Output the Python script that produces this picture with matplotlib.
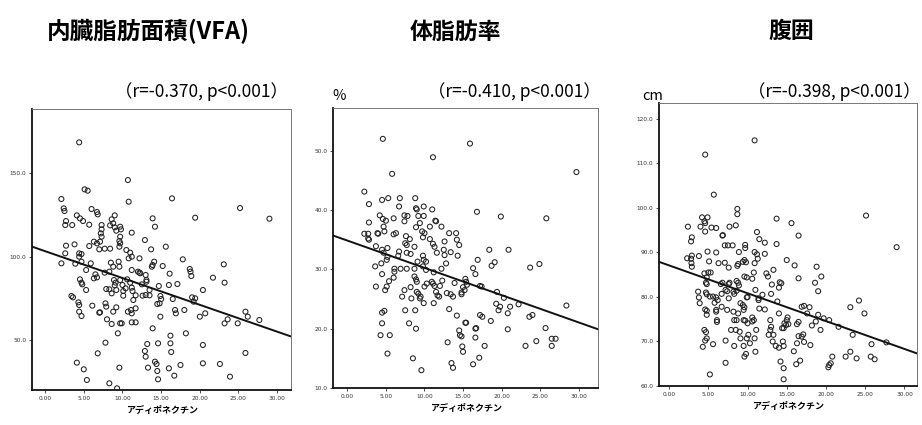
import matplotlib
matplotlib.use("Agg")
import matplotlib.pyplot as plt

plt.rcParams["font.family"] = ["Noto Sans CJK JP", "DejaVu Sans"]

# アディポネクチン vs 内臓脂肪面積
vfa_x = [4.4, 10.7, 5.1, 5.5, 2.1, 16.4, 10.8, 2.4, 2.5, 6.0,
         6.7, 6.8, 25.2, 29.0, 19.4, 4.1, 4.5, 4.9, 2.7, 2.6,
         3.5, 5.7, 9.0, 8.6, 8.8, 7.3, 7.3, 7.2, 8.4, 9.0,
         9.2, 9.7, 9.8, 13.9, 14.2, 11.2, 12.9, 9.7, 9.6, 9.7,
         7.3, 7.1, 6.3, 6.7, 5.7, 3.8, 2.7, 15.6, 13.7, 7.0,
         7.7, 8.4, 9.6, 10.5, 11.0, 11.2, 10.8, 12.2, 2.6, 4.4,
         4.7, 4.4, 2.1, 3.9, 4.7, 5.9, 5.3, 8.5, 8.8, 9.5,
         9.6, 14.1, 13.9, 15.2, 17.8, 23.1, 12.0, 12.2, 12.3, 11.2,
         13.0, 13.1, 13.1, 13.8, 16.1, 18.7, 18.8, 18.9, 21.7, 23.2,
         4.5, 4.7, 4.8, 5.3, 6.5, 6.7, 6.3, 7.7, 8.3, 8.9,
         9.1, 9.0, 9.7, 10.0, 10.4, 10.6, 11.0, 7.9, 8.6, 10.1,
         11.3, 11.7, 12.6, 13.5, 14.7, 16.0, 17.1, 14.9, 15.0, 14.8,
         14.5, 16.5, 16.8, 16.9, 18.0, 19.0, 19.4, 19.2, 20.4, 20.0,
         20.7, 23.2, 23.6, 24.9, 25.9, 26.2, 27.7, 3.4, 3.6, 4.3,
         4.4, 4.4, 4.7, 6.1, 7.0, 7.1, 7.8, 7.9, 8.0, 8.6,
         8.8, 9.2, 9.4, 9.7, 9.9, 10.7, 11.1, 11.2, 11.2, 11.7,
         11.4, 11.7, 13.9, 14.9, 18.2, 7.8, 6.8, 4.1, 5.0, 5.4,
         9.6, 8.3, 9.3, 12.9, 13.0, 13.2, 13.3, 14.2, 14.4, 14.5,
         14.6, 14.6, 16.2, 16.2, 16.3, 16.0, 16.7, 17.5, 20.4, 20.4,
         22.6, 23.9, 25.9, 8.3, 9.2, 10.1, 11.2, 12.5, 13.0, 13.5]
vfa_y = [168.6, 146, 140.4, 139.6, 134.6, 135, 133, 129, 127.4, 128.6,
         126.8, 125.4, 129.2, 122.8, 123.4, 124.8, 123, 121.4, 121.4, 119,
         119, 119.2, 124.8, 122.4, 120, 119, 116.4, 114, 118.8, 117.6,
         115.6, 118, 116.4, 123, 118, 114.4, 110, 112, 109.4, 108,
         112, 109, 109, 108, 106.4, 107.4, 106.6, 106, 104.4, 104.4,
         104.8, 104.8, 106, 104, 102.4, 100, 99, 99, 102, 102,
         101.6, 100, 96, 95.8, 97, 96, 92, 96.4, 94, 97,
         94, 97, 95, 94.4, 98.4, 95.4, 91, 90.4, 90, 92,
         89, 86, 85, 94, 89.8, 92.6, 91, 88.4, 87.4, 84.4,
         86.4, 84.4, 83.4, 80, 89.4, 87.6, 87, 90.4, 91, 86,
         84.4, 82.8, 86, 83, 81, 86.4, 84.4, 80.6, 78, 79.4,
         79.4, 76.8, 76.6, 80, 82.4, 83, 83.6, 76.4, 74.6, 72,
         71.6, 74.6, 68, 66, 68, 75.6, 75, 73, 80, 64,
         66, 60, 62.4, 60, 67, 64, 62, 76.4, 75.6, 72.6,
         71, 67, 64.4, 70.6, 66.4, 66.6, 72, 70, 62.4, 59.6,
         67, 69.6, 54, 60, 60, 67, 68, 66, 60.6, 60.6,
         74, 69, 57, 64, 54, 48.4, 42, 36.4, 32.4, 26,
         33.4, 24, 21, 43.4, 40, 47.6, 33.4, 37, 35.6, 31.4,
         48, 26.4, 52.6, 48, 42.8, 33, 28.6, 35, 47, 36,
         35.6, 28, 42.2, 80.4, 80, 76.6, 81.4, 83.4, 77, 76.8]

# アディポネクチン vs 体脂肪率
fat_x = [4.6, 15.9, 11.1, 29.7, 5.8, 2.2, 2.8, 4.5, 5.3, 6.8,
         8.8, 8.9, 9.0, 9.9, 11.0, 6.7, 16.8, 19.9, 25.8, 4.2,
         6.0, 7.4, 7.8, 7.4, 9.2, 9.9, 11.4, 11.5, 2.8, 4.6,
         4.7, 5.0, 8.9, 9.4, 10.7, 12.2, 2.2, 2.7, 2.7, 2.8,
         3.9, 4.0, 4.8, 6.0, 6.3, 7.6, 9.7, 10.0, 9.8, 13.2,
         14.1, 14.2, 14.5, 8.1, 10.7, 11.1, 12.6, 3.7, 4.5, 4.7,
         5.2, 6.7, 6.6, 7.5, 7.7, 7.7, 8.2, 8.7, 9.8, 9.9,
         10.2, 9.1, 11.3, 11.6, 12.5, 12.6, 13.4, 14.3, 16.9, 18.4,
         19.1, 20.9, 24.9, 23.7, 3.6, 4.4, 5.1, 5.2, 6.1, 6.1,
         6.9, 7.7, 8.7, 9.8, 10.2, 11.2, 12.2, 12.8, 16.3, 16.6,
         18.7, 4.5, 3.7, 5.1, 4.9, 5.4, 6.0, 7.1, 7.4, 8.2,
         8.7, 8.9, 9.0, 9.0, 9.2, 9.4, 9.5, 8.3, 10.0, 10.3,
         10.95, 11.1, 11.3, 11.5, 11.7, 11.9, 12.3, 12.0, 12.9, 13.4,
         13.7, 13.9, 15.3, 15.4, 15.5, 15.0, 15.2, 17.2, 17.4, 19.4,
         20.3, 14.8, 14.8, 7.5, 8.8, 9.9, 11.2, 13.2, 14.2, 17.2,
         17.5, 18.6, 19.3, 19.8, 19.6, 20.8, 21.1, 22.2, 23.6, 24.0,
         25.7, 28.4, 4.5, 4.8, 4.5, 4.3, 5.5, 5.2, 8.0, 8.9,
         8.5, 9.6, 13.0, 14.8, 14.9, 15.0, 14.5, 14.6, 15.3, 15.4,
         16.6, 16.7, 16.6, 16.3, 17.1, 17.8, 13.5, 13.7, 20.8, 23.1, 24.5,
         26.5, 27.0, 26.5]
fat_y = [52.0, 51.2, 48.9, 46.4, 46.1, 43.1, 41.0, 41.7, 42.0, 42.0,
         42.0, 40.3, 40.1, 40.6, 40.1, 40.6, 39.7, 38.9, 38.6, 39.1,
         38.6, 39.1, 39.0, 38.1, 39.0, 39.0, 38.2, 38.1, 37.9, 38.5,
         37.2, 38.2, 37.1, 37.8, 37.2, 37.2, 36.0, 36.0, 35.2, 35.0,
         36.1, 36.0, 36.4, 35.9, 36.1, 35.6, 36.4, 36.1, 35.4, 36.1,
         36.1, 35.0, 34.1, 35.1, 35.1, 34.3, 34.7, 33.9, 33.3, 32.8,
         33.6, 33.0, 32.3, 34.4, 34.1, 32.8, 32.6, 33.8, 32.3, 31.6,
         31.3, 31.3, 33.8, 32.8, 33.3, 32.4, 32.9, 32.3, 31.6, 33.3,
         31.2, 33.3, 30.9, 30.3, 30.5, 31.0, 31.6, 32.1, 30.1, 29.6,
         30.1, 30.1, 30.1, 30.5, 29.9, 29.5, 30.1, 31.0, 30.2, 29.2,
         30.6, 29.2, 27.1, 27.1, 26.5, 28.0, 28.6, 25.4, 26.5, 27.0,
         28.8, 28.3, 27.9, 26.2, 25.9, 25.1, 25.4, 25.1, 27.1, 27.6,
         27.9, 27.6, 27.2, 26.2, 25.6, 25.4, 28.1, 27.2, 26.0, 25.8,
         25.4, 27.7, 28.4, 27.9, 27.4, 27.0, 26.5, 27.2, 27.1, 26.2,
         25.2, 26.1, 25.8, 23.1, 23.1, 24.3, 24.3, 23.3, 22.2, 22.3,
         22.0, 21.3, 24.2, 23.7, 23.1, 22.6, 23.7, 24.1, 22.0, 22.3,
         20.1, 23.9, 22.7, 23.0, 20.9, 18.9, 18.9, 15.8, 20.9, 20.0,
         15.0, 13.0, 17.7, 18.7, 17.0, 16.1, 19.7, 18.9, 21.0, 21.0,
         20.0, 20.1, 18.5, 14.0, 15.1, 17.1, 14.2, 13.4, 19.9, 17.1, 17.9,
         18.3, 18.3, 17.1]

# アディポネクチン vs 腹囲
waist_x = [10.9, 4.6, 5.7, 8.7, 8.7, 4.2, 4.9, 4.5, 4.6, 2.4,
           4.0, 5.4, 6.0, 4.6, 7.7, 8.5, 13.7, 15.6, 25.1, 6.85,
           6.8, 11.2, 16.5, 2.9, 2.8, 11.5, 12.2, 13.7, 29.0, 7.1,
           7.5, 8.1, 9.7, 9.7, 2.3, 2.9, 2.8, 2.85, 2.9, 3.8,
           4.9, 6.0, 8.9, 9.6, 9.8, 9.4, 10.9, 11.2, 11.3, 12.2,
           5.1, 6.3, 7.1, 7.6, 8.7, 8.8, 10.9, 15.0, 16.0, 18.8,
           19.4, 13.3, 4.5, 5.0, 4.8, 4.7, 4.8, 5.3, 6.8, 6.6,
           7.7, 7.6, 8.6, 8.8, 8.9, 9.6, 9.9, 10.8, 10.6, 12.4,
           12.6, 13.1, 14.1, 14.3, 14.0, 16.5, 18.6, 19.0, 3.7, 3.8,
           4.7, 4.8, 5.2, 5.6, 6.0, 6.2, 5.8, 6.7, 7.2, 7.4,
           7.6, 8.2, 8.3, 8.6, 9.1, 9.4, 9.6, 9.9, 10.0, 11.0,
           11.4, 11.4, 11.5, 11.9, 13.0, 3.9, 4.6, 4.8, 4.8, 6.0,
           6.0, 6.7, 7.4, 8.2, 8.8, 9.5, 8.3, 8.6, 9.5, 9.7,
           10.0, 10.6, 10.8, 10.6, 11.1, 12.2, 12.9, 13.8, 14.0, 14.7,
           14.9, 15.2, 15.0, 15.1, 14.4, 14.6, 13.0, 12.9, 13.3, 16.3,
           16.5, 16.9, 17.2, 17.9, 17.6, 18.2, 18.7, 19.0, 19.7, 20.4,
           19.3, 21.6, 23.1, 24.2, 24.9, 23.4, 4.5, 4.7, 4.8, 4.6,
           4.3, 5.6, 6.1, 6.1, 7.2, 7.2, 7.9, 8.5, 8.3, 9.0,
           9.1, 9.5, 9.6, 9.8, 10.1, 9.9, 10.3, 11.0, 10.9, 12.7,
           13.2, 13.6, 14.0, 14.5, 14.6, 14.2, 14.6, 14.6, 15.9, 16.3,
           16.5, 16.9, 17.1, 17.2, 16.2, 16.7, 18.0, 20.3, 20.4, 20.8,
           20.6, 22.5, 23.1, 23.9, 25.8, 25.7, 26.2, 27.7, 5.2]
waist_y = [115.2, 112.0, 103.0, 99.8, 98.6, 97.9, 97.9, 97.0, 96.6, 95.8,
           95.8, 95.6, 95.5, 94.7, 95.8, 96.1, 97.6, 96.6, 98.3, 93.9,
           93.8, 94.6, 93.8, 93.4, 92.5, 93.0, 92.2, 91.9, 91.2, 91.6,
           91.6, 91.6, 91.7, 91.0, 88.7, 89.3, 88.6, 87.6, 86.8, 89.2,
           90.2, 90.0, 90.1, 88.3, 87.8, 87.9, 90.1, 89.6, 88.6, 89.7,
           88.0, 87.6, 87.7, 86.6, 87.0, 87.4, 87.6, 88.3, 87.1, 86.8,
           84.6, 86.1, 85.3, 85.5, 84.4, 83.2, 82.9, 85.5, 83.2, 82.9,
           83.2, 82.9, 83.6, 83.2, 82.6, 84.6, 84.4, 85.5, 84.1, 85.3,
           84.6, 82.8, 83.3, 83.1, 82.1, 84.2, 83.2, 81.3, 81.2, 79.9,
           81.0, 80.6, 80.1, 80.1, 79.9, 79.3, 78.7, 80.7, 81.6, 81.3,
           79.7, 81.2, 80.7, 81.4, 78.6, 78.2, 77.7, 79.9, 80.0, 81.6,
           79.7, 79.3, 77.4, 80.5, 80.7, 78.6, 77.2, 76.9, 76.0, 77.1,
           76.7, 77.8, 77.1, 76.7, 76.3, 77.1, 74.8, 74.8, 74.8, 74.7,
           74.1, 75.4, 74.8, 74.5, 72.6, 77.2, 74.8, 79.0, 76.3, 74.1,
           73.7, 73.9, 74.8, 75.4, 73.0, 73.0, 73.3, 72.6, 71.5, 73.9,
           74.4, 77.8, 78.0, 77.7, 76.3, 73.6, 74.5, 76.0, 75.2, 74.8,
           72.6, 73.3, 77.7, 79.2, 76.3, 71.5, 72.6, 72.1, 70.7, 70.2,
           68.8, 69.4, 74.8, 74.4, 70.2, 65.2, 72.6, 72.6, 69.0, 72.2,
           70.7, 69.0, 66.6, 67.2, 71.5, 70.7, 69.6, 67.7, 70.7, 71.5,
           70.0, 69.0, 68.6, 70.0, 69.0, 65.5, 64.0, 61.5, 67.8, 69.6,
           71.2, 71.1, 71.6, 69.9, 64.9, 65.7, 69.2, 64.2, 64.7, 66.6,
           65.1, 66.6, 67.7, 66.2, 69.4, 66.6, 66.0, 69.8, 62.6]

# 回帰直線 (切片, 傾き)
fit_vfa = (103.3, -1.61)
fit_fat = (34.85, -0.46)
fit_waist = (87.1, -0.626)

titles = ["内臓脂肪面積(VFA)", "体脂肪率", "腹囲"]
stats = ["（r=-0.370, p<0.001）", "（r=-0.410, p<0.001）", "（r=-0.398, p<0.001）"]
units = ["", "%", "cm"]
x_ticks = [0, 5, 10, 15, 20, 25, 30]

paneles = [
    dict(x=vfa_x, y=vfa_y, fit=fit_vfa, rect=[0.0347, 0.0824, 0.281, 0.661],
         xlim=(-1.7, 31.8), ylim=(20, 188.6), yticks=[50, 100, 150]),
    dict(x=fat_x, y=fat_y, fit=fit_fat, rect=[0.3612, 0.0871, 0.2874, 0.6588],
         xlim=(-1.86, 32.5), ylim=(10, 57.2), yticks=[10, 20, 30, 40, 50]),
    dict(x=waist_x, y=waist_y, fit=fit_waist, rect=[0.7148, 0.0918, 0.2798, 0.6659],
         xlim=(-1.28, 31.6), ylim=(60, 123.6), yticks=[60, 70, 80, 90, 100, 110, 120]),
]

fig = plt.figure(figsize=(9.22, 4.25), dpi=100)

for i, p in enumerate(paneles):
    ax = fig.add_axes(p["rect"])
    ax.scatter(p["x"], p["y"], s=13, facecolors="none", edgecolors="#222222",
               linewidths=0.75, zorder=3)

    a, b = p["fit"]
    x0, x1 = p["xlim"]
    ax.plot([x0, x1], [a + b * x0, a + b * x1], color="#111111", lw=1.4, zorder=4)

    ax.set_xlim(x0, x1)
    ax.set_ylim(*p["ylim"])
    ax.set_xticks(x_ticks)
    ax.set_xticklabels([f"{t:.2f}" for t in x_ticks], fontsize=4.2, family="DejaVu Sans")
    ax.set_yticks(p["yticks"])
    ax.set_yticklabels([f"{t:.1f}" for t in p["yticks"]], fontsize=4.2, family="DejaVu Sans")
    ax.tick_params(length=2, width=0.6, pad=2, colors="#333333")

    for side in ["left", "bottom"]:
        ax.spines[side].set_linewidth(1.3)
        ax.spines[side].set_color("#111111")
    for side in ["top", "right"]:
        ax.spines[side].set_linewidth(0.7)
        ax.spines[side].set_color("#777777")

    ax.set_xlabel("アディポネクチン", fontsize=6.5, fontweight="bold", labelpad=4)

# タイトルと相関係数
fig.text(0.161, 0.925, titles[0], fontsize=17, fontweight="bold", ha="center", va="center")
fig.text(0.4935, 0.925, titles[1], fontsize=16.5, fontweight="bold", ha="center", va="center")
fig.text(0.858, 0.925, titles[2], fontsize=16.5, fontweight="bold", ha="center", va="center")

fig.text(0.312, 0.784, stats[0], fontsize=12.5, ha="right", va="center")
fig.text(0.652, 0.784, stats[1], fontsize=12.5, ha="right", va="center")
fig.text(0.999, 0.784, stats[2], fontsize=12.5, ha="right", va="center")

fig.text(0.361, 0.775, units[1], fontsize=10.5, ha="left", va="center")
fig.text(0.697, 0.775, units[2], fontsize=10.5, ha="left", va="center")

fig.savefig("out.png", dpi=100)
